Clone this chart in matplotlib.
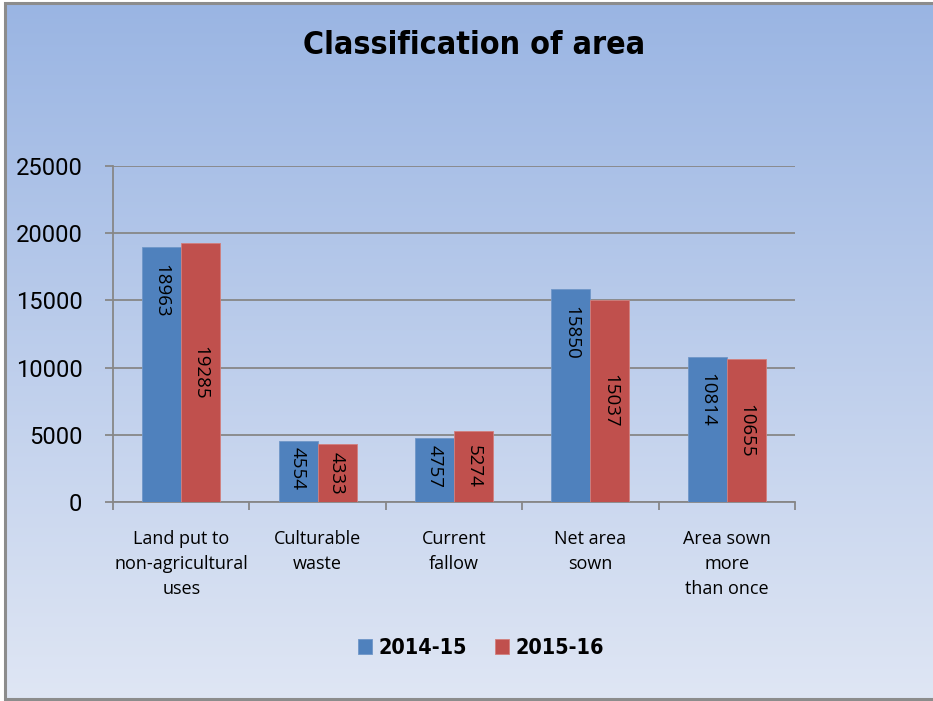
import numpy as np
import matplotlib
matplotlib.use("Agg")
import matplotlib.pyplot as plt

# ---------------------------------------------------------------------------
# Data
# ---------------------------------------------------------------------------
categories = [
    "Land put to\nnon-agricultural\nuses",
    "Culturable\nwaste",
    "Current\nfallow",
    "Net area\nsown",
    "Area sown\nmore\nthan once",
]
series_names = ["2014-15", "2015-16"]
area_2014 = [18963, 4554, 4757, 15850, 10814]
area_2015 = [19285, 4333, 5274, 15037, 10655]
y_ticks = [0, 5000, 10000, 15000, 20000, 25000]

BLUE = "#4f81bd"
RED = "#c0504d"
GRID = "#878787"
W, H = 933, 701

fig = plt.figure(figsize=(W / 100, H / 100), dpi=100)

# background gradient + border (pixel coordinates)
bg = fig.add_axes([0, 0, 1, 1], zorder=-10)
grad = np.linspace(0, 1, 256)[:, None]
top = np.array([0x9a, 0xb5, 0xe3]) / 255
bot = np.array([0xdf, 0xe6, 0xf4]) / 255
img = top[None, None, :] * (1 - grad[..., None]) + bot[None, None, :] * grad[..., None]
bg.imshow(img, extent=[5, W + 20, 699, 3], aspect="auto", interpolation="bilinear")
bg.plot([W + 20, 5, 5, W + 20], [3, 3, 699, 699], color="#8c8c8c", lw=2.2,
        solid_joinstyle="miter")
bg.set_xlim(0, W)
bg.set_ylim(H, 0)
bg.axis("off")

# main plot
ax = fig.add_axes([113 / W, 1 - 502 / H, 682 / W, 336 / H])
ax.patch.set_alpha(0)

x = np.arange(len(categories))
bw = 0.286
b1 = ax.bar(x - bw / 2, area_2014, bw, color=BLUE, edgecolor="#6f96c8", lw=0.6, zorder=3)
b2 = ax.bar(x + bw / 2, area_2015, bw, color=RED, edgecolor="#d27f7d", lw=0.6, zorder=3)

lab_font = dict(family=["Open Sans", "DejaVu Sans"], size=13.5, color="black")
for xi, v in zip(x - bw / 2, area_2014):
    # near top for tall bars, centred for short ones
    y = max(v - 1250, v / 2 + 1850)
    ax.text(xi, y, str(v), rotation=270, ha="center", va="top", zorder=4, **lab_font)
for xi, v in zip(x + bw / 2, area_2015):
    ax.text(xi, v / 2, str(v), rotation=270, ha="center", va="center", zorder=4, **lab_font)

ax.set_xlim(-0.5, len(categories) - 0.5)
ax.set_ylim(0, 25000)
ax.set_yticks(y_ticks)
ax.set_yticklabels([str(t) for t in y_ticks], family=["Roboto", "DejaVu Sans"], fontsize=17)
ax.yaxis.grid(True, color=GRID, lw=1.3, zorder=1)
ax.set_axisbelow(True)

ax.set_xticks(np.arange(len(categories) + 1) - 0.5)
ax.set_xticklabels([])
ax.set_xticks(x, minor=True)
ax.set_xticklabels(categories, minor=True, family=["Open Sans", "DejaVu Sans"],
                   fontsize=13, linespacing=1.52)
ax.tick_params(axis="x", which="minor", length=0, pad=20)
ax.tick_params(axis="x", which="major", length=6, color=GRID, width=1.3)
ax.tick_params(axis="y", length=6, color=GRID, width=1.3, pad=16)

for s in ["top", "right"]:
    ax.spines[s].set_visible(False)
for s in ["left", "bottom"]:
    ax.spines[s].set_color(GRID)
    ax.spines[s].set_linewidth(1.3)

fig.text(474 / W, 1 - 46 / H, "Classification of area", ha="center", va="center",
         family="DejaVu Sans", stretch="condensed", fontweight="bold", fontsize=23)

ax.legend([b1, b2], series_names, loc="center", bbox_to_anchor=(481 / W, 1 - 648 / H),
          bbox_transform=fig.transFigure, ncol=2, frameon=False,
          prop=dict(family="DejaVu Sans", stretch="condensed", weight="bold", size=15.5),
          handlelength=0.65, handleheight=0.65, handletextpad=0.3, columnspacing=1.3)

fig.savefig("out.png", dpi=100)
